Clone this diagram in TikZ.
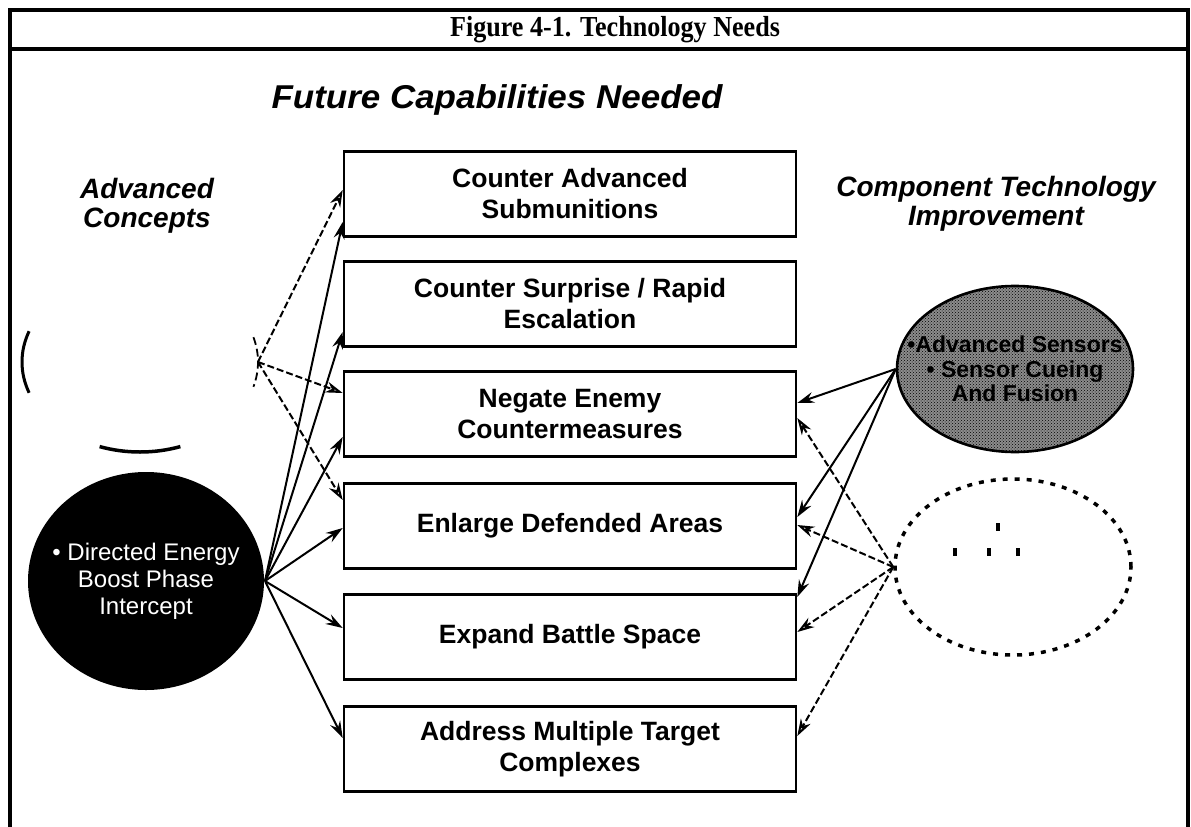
\documentclass[tikz,border=0pt]{standalone}
\usepackage{fontspec}
\setmainfont{Liberation Serif}
\setsansfont{Liberation Sans}
\usetikzlibrary{arrows.meta, calc, patterns, shapes.geometric}

\begin{document}
\begin{tikzpicture}[x=1pt, y=-1pt, line width=2pt,
    >={Stealth[length=17pt, width=11pt, inset=6pt]},
    capbox/.style={draw, line width=2.6pt, minimum width=452pt, minimum height=85pt, align=center,
        font=\sffamily\bfseries\fontsize{26.5}{31}\selectfont},
    head/.style={align=center, font=\sffamily\bfseries\itshape\fontsize{28}{29}\selectfont},
    blob/.style={ellipse, inner sep=0pt, minimum width=236pt},
    faint/.style={->, dash pattern=on 7pt off 3pt, >={Stealth[open, length=17pt, width=11pt]}}]
        \useasboundingbox (0, 0) rectangle (1191, 827);

        % frame and title row
        \draw[line width=3.5pt] (10, 827) -- (10, 10) -- (1188, 10) -- (1188, 827);
        \draw[line width=3.5pt] (10, 49) -- (1188, 49);
        \node[font=\bfseries\fontsize{29}{29}\selectfont] (title) at (615, 30) {\scalebox{0.9}[1]{Figure 4-1. Technology Needs}};

        \node[head, font=\sffamily\bfseries\itshape\fontsize{33}{33}\selectfont] (fcn) at (497, 100) {\scalebox{1.06}[1]{Future Capabilities Needed}};
        \node[head] (adv) at (147, 206) {Advanced\\Concepts};
        \node[head] (comp) at (996, 204) {Component Technology\\Improvement};

        % capabilities
        \node[capbox] (cap1) at (570, 194) {Counter Advanced\\Submunitions};
        \node[capbox] (cap2) at (570, 304) {Counter Surprise / Rapid\\Escalation};
        \node[capbox] (cap3) at (570, 414) {Negate Enemy\\Countermeasures};
        \node[capbox] (cap4) at (570, 526) {Enlarge Defended Areas};
        \node[capbox] (cap5) at (570, 637) {Expand Battle Space};
        \node[capbox] (cap6) at (570, 749) {Address Multiple Target\\Complexes};

        % advanced concepts
        \draw[line width=3pt] (140, 362) ++(160:118 and 90) arc (160:200:118 and 90);
        \draw[line width=3.5pt] (140, 362) ++(70:118 and 90) arc (70:110:118 and 90);
        \draw[line width=1.8pt, dash pattern=on 8pt off 4pt] (140, 362) ++(-16:118 and 90) arc (-16:16:118 and 90);
        \coordinate (ac) at (258, 362);
        \node[blob, fill=black, minimum height=218pt] (dep) at (146, 581) {};
        \node[text=white, align=center, font=\sffamily\fontsize{24}{27}\selectfont] (deptxt) at (dep) {\textbullet\ Directed Energy\\Boost Phase\\Intercept};

        % component technology
        \node[blob, draw, line width=2.6pt, preaction={fill=black!45}, pattern=crosshatch dots,
            minimum height=166pt] (sens) at (1015, 369) {};
        \node[align=center, font=\sffamily\bfseries\fontsize{23}{24.5}\selectfont] (senstxt) at (sens) {\textbullet Advanced Sensors\\\textbullet\ Sensor Cueing\\And Fusion};
        \node[blob, draw, line width=3.5pt, dash pattern=on 5pt off 7pt, minimum height=176pt] (oth) at (1013, 567) {};
        \foreach \px/\py in {998/527, 955/552, 989/552, 1018/552}
            \fill (\px-2, \py-4) rectangle (\px+2, \py+4);

        \draw[faint] (ac) -- ($(cap1.west)+(0, -4)$);
        \draw[faint] (ac) -- ($(cap3.west)+(0, -21)$);
        \draw[faint] (ac) -- ($(cap4.west)+(0, -26)$);

        \draw[->] (dep.east) -- ($(cap1.west)+(0, 28)$);
        \draw[->] (dep.east) -- ($(cap2.west)+(0, 28)$);
        \draw[->] (dep.east) -- ($(cap3.west)+(0, 23)$);
        \draw[->] (dep.east) -- ($(cap4.west)+(0, 2)$);
        \draw[->] (dep.east) -- ($(cap5.west)+(0, -9)$);
        \draw[->] (dep.east) -- ($(cap6.west)+(0, -11)$);

        \draw[->] (sens.west) -- ($(cap3.east)+(0, -11)$);
        \draw[->] (sens.west) -- ($(cap4.east)+(0, -9)$);
        \draw[->] (sens.west) -- ($(cap5.east)+(0, -40)$);

        \draw[faint] (oth.west) -- ($(cap3.east)+(0, 4)$);
        \draw[faint] (oth.west) -- ($(cap4.east)+(0, -1)$);
        \draw[faint] (oth.west) -- ($(cap5.east)+(0, -5)$);
        \draw[faint] (oth.west) -- ($(cap6.east)+(0, -13)$);
    \end{tikzpicture}
\end{document}
